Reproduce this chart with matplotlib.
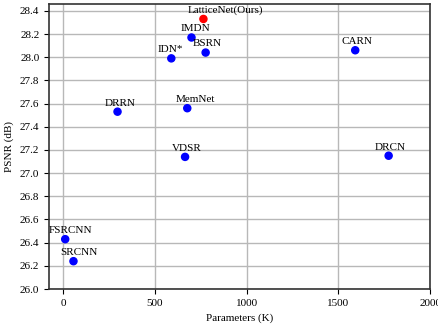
import matplotlib.pyplot as plt
import numpy as np

plt.rcParams['font.family'] = ['Liberation Serif', 'DejaVu Serif']

names = ['SRCNN', 'FSRCNN', 'DRRN', 'VDSR', 'MemNet', 'IDN*', 'IMDN', 'BSRN',
         'CARN', 'DRCN', 'LatticeNet(Ours)']
params = [57, 12, 297, 665, 677, 590, 700, 777, 1592, 1774, 765]
psnr = [26.24, 26.43, 27.53, 27.14, 27.56, 27.99, 28.17, 28.04, 28.06, 27.15, 28.33]
colors = ['blue'] * 10 + ['red']
# label offsets (points)
offs = [(4, 3), (4, 3), (2, 3), (1, 3), (6, 3), (-1, 3), (3, 3), (1, 3), (1, 3), (1, 3), (16, 3)]

fig, ax = plt.subplots(figsize=(4.38, 3.24), dpi=100)
ax.grid(color='#b8b8b8', linewidth=1, zorder=0)
ax.scatter(params, psnr, c=colors, s=26, zorder=3)
for n, x, y, o in zip(names, params, psnr, offs):
    ax.annotate(n, (x, y), xytext=o, textcoords='offset points',
                ha='center', va='bottom', fontsize=8)

ax.set_xlim(-76, 2000)
ax.set_ylim(26.0, 28.46)
ax.set_xticks([0, 500, 1000, 1500, 2000])
ax.set_yticks(np.arange(26.0, 28.41, 0.2))
ax.yaxis.set_major_formatter(plt.FormatStrFormatter('%.1f'))
ax.tick_params(labelsize=8)
ax.set_xlabel('Parameters (K)', fontsize=8)
ax.set_ylabel('PSNR (dB)', fontsize=8)
for s in ax.spines.values():
    s.set_linewidth(1.2)
    s.set_color('#333333')

plt.subplots_adjust(left=0.112, right=0.982, top=0.988, bottom=0.108)
plt.savefig('out.png', dpi=100)
